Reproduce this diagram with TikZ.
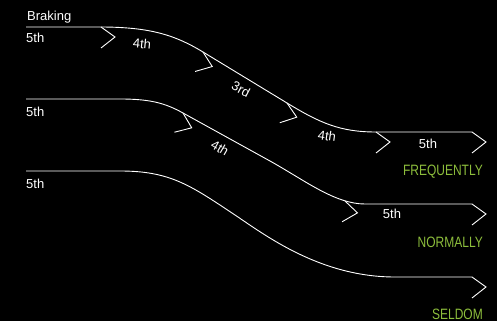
\documentclass[tikz,border=0pt]{standalone}
\usepackage{fontspec}
\setmainfont{Liberation Sans}
\newfontface\condfont{Liberation Sans}[FakeStretch=0.8]
\definecolor{leaf}{RGB}{141,190,60}
\tikzset{
  track/.style={draw=white,line width=0.9pt},
  gear/.style={text=white,font=\fontsize{13}{13}\selectfont,inner sep=0pt},
  often/.style={text=leaf,font=\fontsize{15}{15}\selectfont\condfont,inner sep=0pt,anchor=east},
  shiftmark/.pic={\draw[track] (0,0) -- (14,10) -- (0,21);}
}
\begin{document}
\begin{tikzpicture}[x=1pt,y=-1pt]
	\fill[black] (0,0) rectangle (497,321);
	\useasboundingbox (0,0) rectangle (497,321);
	% frequently
	\coordinate (F0) at (26,27);
	\coordinate (F1) at (100,27);
	\coordinate (F2) at (203,52);
	\coordinate (F3) at (287,103);
	\coordinate (F4) at (376,132);
	\coordinate (F5) at (472,132);
	\draw[track] (F0) -- (F1) .. controls (150,27) and (175,35) .. (F2) -- (F3) .. controls (320,123) and (340,132) .. (F4) -- (F5);
	\pic at (101,27) {shiftmark};
	\pic[rotate=-22] at (F2) {shiftmark};
	\pic[rotate=-20] at (F3) {shiftmark};
	\pic at (F4) {shiftmark};
	\pic at (F5) {shiftmark};
	\node[gear,anchor=base west] (brk) at (27,21) {Braking};
	\node[gear,anchor=base west] (f5a) at (26,42) {5th};
	\node[gear,rotate=-5] (f4a) at (142,44) {4th};
	\node[gear,rotate=-28] (f3) at (241,89) {3rd};
	\node[gear,rotate=-8] (f4b) at (327,136) {4th};
	\node[gear] (f5b) at (428,144) {5th};
	\node[often] (freq) at (483,172) {FREQUENTLY};
	% normally
	\coordinate (N0) at (26,99);
	\coordinate (N1) at (120,99);
	\coordinate (N2) at (183,113);
	\coordinate (N3) at (270,161);
	\coordinate (N4) at (365,204);
	\coordinate (N5) at (472,204);
	\draw[track] (N0) -- (N1) .. controls (150,99) and (165,103) .. (N2) -- (N3) .. controls (305,180.5) and (335,204) .. (N4) -- (N5);
	\pic[rotate=-24] at (N2) {shiftmark};
	\pic[rotate=-8] at (345,201) {shiftmark};
	\pic at (N5) {shiftmark};
	\node[gear,anchor=base west] (n5a) at (26,116) {5th};
	\node[gear,rotate=-30] (n4) at (220,148) {4th};
	\node[gear] (n5b) at (392,214) {5th};
	\node[often] (norm) at (483,242) {NORMALLY};
	% seldom
	\coordinate (S0) at (26,171);
	\coordinate (S1) at (120,171);
	\coordinate (S2) at (235,215);
	\coordinate (S3) at (395,277);
	\coordinate (S4) at (472,277);
	\draw[track] (S0) -- (S1) .. controls (170,171) and (190,185) .. (S2) .. controls (265,235) and (320,277) .. (S3) -- (S4);
	\pic at (S4) {shiftmark};
	\node[gear,anchor=base west] (s5) at (26,188) {5th};
	\node[often] (seld) at (483,314) {SELDOM};
\end{tikzpicture}
\end{document}
